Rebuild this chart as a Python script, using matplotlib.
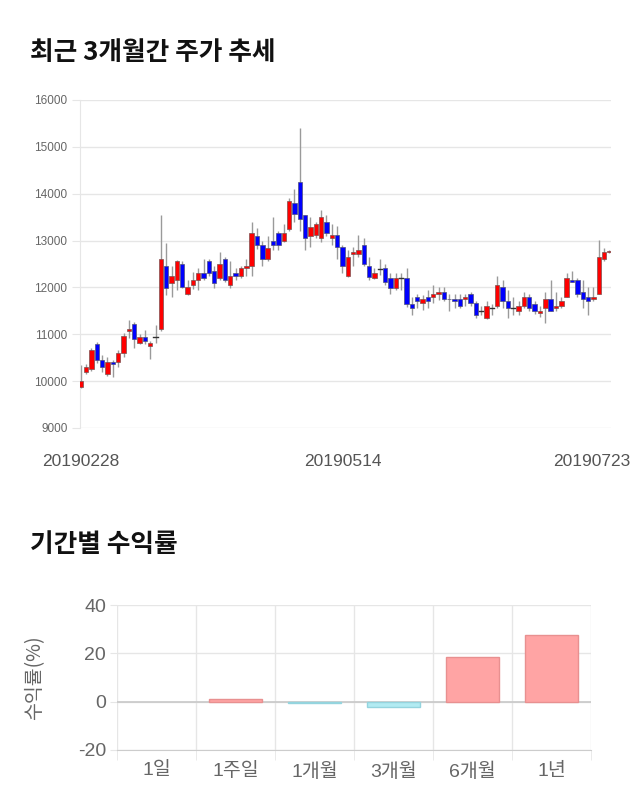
import matplotlib
matplotlib.use("Agg")
import matplotlib.pyplot as plt
from matplotlib.patches import Rectangle
from matplotlib.ticker import FixedLocator

# ---------------- data ----------------
opens = [9870, 10204, 10255, 10800, 10450, 10150, 10400, 10400, 10610, 11060,
         11210, 10810, 10950, 10760, 10950, 11110, 12455, 12100, 12160, 12500,
         11855, 12050, 12160, 12300, 12560, 12350, 12200, 12600, 12050, 12300,
         12250, 12410, 12455, 13100, 12900, 12600, 13000, 13155, 13000, 13250,
         13800, 14260, 13555, 13100, 13110, 13060, 13400, 13060, 13110, 12860,
         12250, 12710, 12710, 12900, 12455, 12210, 12400, 12410, 12200, 11995,
         12200, 12200, 11650, 11805, 11665, 11805, 11805, 11855, 11900, 11760,
         11750, 11750, 11750, 11860, 11665, 11505, 11355, 11555, 11605, 12000,
         11700, 11555, 11505, 11605, 11805, 11650, 11450, 11555, 11750, 11555,
         11605, 11805, 12160, 12160, 11910, 11805, 11755, 11855, 12600, 12760]
highs = [10340, 10366, 10714, 10830, 10560, 10520, 10450, 10660, 11020, 11305,
         11255, 11000, 11100, 10865, 11200, 13550, 12955, 12455, 12590, 12560,
         12160, 12330, 12410, 12605, 12605, 12455, 12750, 12650, 12560, 12410,
         12455, 12600, 13400, 13260, 13000, 13100, 13500, 13200, 13355, 13900,
         14100, 15395, 13555, 13500, 13400, 13650, 13550, 13355, 13310, 12900,
         12800, 12860, 13110, 13050, 12660, 12410, 12605, 12510, 12300, 12300,
         12300, 12410, 11805, 11870, 11840, 11950, 12050, 12000, 12000, 11860,
         11860, 11860, 11860, 11910, 11710, 11600, 11700, 11650, 12250, 12150,
         11950, 11800, 11700, 11900, 11860, 11700, 11605, 11910, 12160, 11910,
         11805, 12300, 12350, 12210, 12160, 12000, 12000, 13010, 12850, 12790]
lows = [9860, 10153, 10225, 10390, 10205, 10100, 10090, 10310, 10510, 10920,
        10700, 10790, 10790, 10470, 10810, 11060, 11840, 11805, 11950, 11980,
        11840, 11970, 11950, 12160, 12250, 11990, 12160, 12110, 11990, 12160,
        12210, 12250, 12245, 12815, 12450, 12570, 12800, 12800, 12965, 13200,
        13400, 13205, 12800, 12860, 13060, 12965, 13100, 12900, 12600, 12300,
        12215, 12455, 12660, 12455, 12160, 12190, 12260, 12050, 11860, 11950,
        11950, 11590, 11410, 11555, 11520, 11555, 11665, 11740, 11700, 11505,
        11555, 11555, 11605, 11605, 11340, 11410, 11335, 11410, 11555, 11555,
        11355, 11410, 11410, 11555, 11500, 11430, 11360, 11250, 11505, 11505,
        11555, 11805, 12110, 11805, 11560, 11410, 11700, 11855, 12560, 12740]
closes = [10000, 10310, 10658, 10450, 10310, 10400, 10360, 10610, 10960, 11110,
          10910, 10950, 10860, 10810, 10950, 12600, 11995, 12250, 12560, 12000,
          12000, 12160, 12300, 12210, 12300, 12100, 12510, 12160, 12250, 12250,
          12410, 12455, 13155, 12900, 12600, 12850, 12900, 12900, 13155, 13850,
          13560, 13455, 13060, 13300, 13355, 13500, 13155, 13110, 12860, 12455,
          12660, 12755, 12805, 12510, 12215, 12300, 12400, 12110, 11995, 12200,
          12200, 11650, 11555, 11700, 11750, 11700, 11860, 11900, 11750, 11750,
          11700, 11605, 11805, 11665, 11405, 11505, 11605, 11555, 12050, 11700,
          11555, 11555, 11605, 11805, 11555, 11505, 11505, 11750, 11505, 11605,
          11700, 12210, 12110, 11855, 11750, 11700, 11805, 12660, 12750, 12770]
date_labels = ["20190228", "20190514", "20190723"]
date_label_idx = [0, 49, 95.7]
price_ticks = [9000, 10000, 11000, 12000, 13000, 14000, 15000, 16000]

periods = ["1일", "1주일", "1개월", "3개월", "6개월", "1년"]
returns = [0.0, 1.2, -0.4, -2.3, 18.6, 27.7]
return_ticks = [-20, 0, 20, 40]

# ---------------- style ----------------
KR = ["Noto Sans CJK KR", "DejaVu Sans"]
NUMKR = ["Liberation Sans", "Noto Sans CJK KR", "DejaVu Sans"]
GRID = "#e6e6e6"
TXT = "#666666"

fig = plt.figure(figsize=(6.4, 8.1), dpi=100)
W, H = 640, 810

def ax_rect(x0, y0, x1, y1):
    return [x0 / W, 1 - y1 / H, (x1 - x0) / W, (y1 - y0) / H]

fig.text(30 / W, 1 - 52 / H, "최근 3개월간 주가 추세", family=KR, fontsize=18.5,
         fontweight="bold", va="center", ha="left", color="#111111")
fig.text(30 / W, 1 - 545 / H, "기간별 수익률", family=KR, fontsize=18.5,
         fontweight="bold", va="center", ha="left", color="#111111")

# ---------------- candlestick ----------------
ax = fig.add_axes(ax_rect(80, 100, 611, 428))
n = len(opens)
bw = 0.82
for i in range(n):
    o, h, l, c = opens[i], highs[i], lows[i], closes[i]
    ax.plot([i, i], [l, h], color="#9a9a9a", lw=1.0, zorder=2, solid_capstyle="butt")
    if c > o:
        ax.add_patch(Rectangle((i - bw / 2, o), bw, c - o, facecolor="#ff0000",
                               edgecolor="#7a5050", lw=0.5, zorder=3))
    elif c < o:
        ax.add_patch(Rectangle((i - bw / 2, c), bw, o - c, facecolor="#0000ff",
                               edgecolor="#50507a", lw=0.5, zorder=3))
    else:
        ax.plot([i - bw / 2, i + bw / 2], [o, o], color="#333333", lw=1.0, zorder=3)

ax.set_xlim(-0.15, n - 1 + 0.3)
ax.set_ylim(9000, 16000)
ax.set_yticks(price_ticks)
ax.set_yticklabels([str(t) for t in price_ticks], family=NUMKR, fontsize=8.5, color=TXT)
ax.grid(axis="y", color=GRID, lw=1)
ax.set_axisbelow(True)
ax.tick_params(axis="y", length=6, color=GRID, pad=3)
ax.set_xticks(date_label_idx)
ax.set_xticklabels(date_labels, family=NUMKR, fontsize=12.5, color="#555555")
ax.tick_params(axis="x", length=0, pad=19)
for s in ["top", "right", "bottom"]:
    ax.spines[s].set_visible(False)
ax.spines["left"].set_color(GRID)

# ---------------- returns bar chart ----------------
bx = fig.add_axes(ax_rect(117, 605, 591, 750))
xs = list(range(len(periods)))
fc = ["#ffa4a4" if v >= 0 else "#b2ebf2" for v in returns]
ec = ["#e89090" if v >= 0 else "#94d4de" for v in returns]
lws = [0 if v == 0 else 1 for v in returns]
bx.bar(xs, returns, width=0.68, color=fc, edgecolor=ec, linewidth=lws, zorder=3)
bx.set_xlim(-0.5, len(periods) - 0.5)
bx.set_ylim(-20, 40)
bx.set_yticks(return_ticks)
bx.set_yticklabels([str(t) for t in return_ticks], family=NUMKR, fontsize=14, color=TXT)
bx.set_xticks(xs)
bx.set_xticklabels(periods, family=NUMKR, fontsize=14, color=TXT)
bx.tick_params(axis="x", which="major", length=0, pad=9)
bx.xaxis.set_minor_locator(FixedLocator([i - 0.5 for i in range(len(periods) + 1)]))
bx.tick_params(axis="x", which="minor", length=7, color=GRID)
bx.tick_params(axis="y", length=5, color=GRID, pad=3)
bx.grid(axis="y", color=GRID, lw=1, zorder=0)
bx.grid(axis="x", which="minor", color=GRID, lw=1, zorder=0)
bx.axhline(0, color="#c8c8c8", lw=1.2, zorder=2)
for s in ["top", "right", "left"]:
    bx.spines[s].set_visible(False)
bx.spines["bottom"].set_color("#cccccc")
bx.set_ylabel("수익률(%)", family=KR, fontsize=14, color=TXT, labelpad=8)
bx.yaxis.set_label_coords(-(117 - 45) / (591 - 117), 0.5)

fig.savefig("out.png", dpi=100)
